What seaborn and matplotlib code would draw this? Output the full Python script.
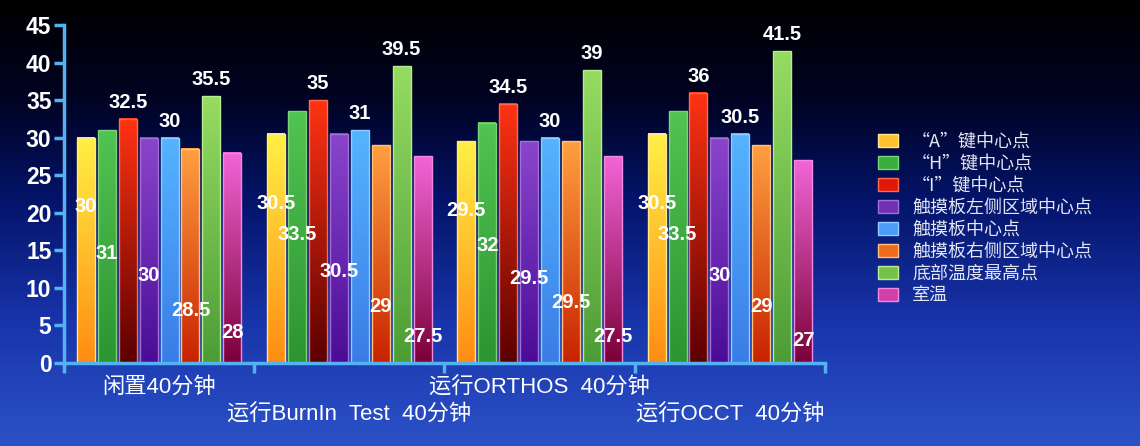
import numpy as np
import pandas as pd
import matplotlib
matplotlib.use('Agg')
import matplotlib.pyplot as plt
import seaborn as sns
from matplotlib.colors import LinearSegmentedColormap
from matplotlib.patches import Patch

# ---------------- data ----------------
groups = ['闲置40分钟', '运行BurnIn  Test  40分钟', '运行ORTHOS  40分钟', '运行OCCT  40分钟']
series = ['“A”键中心点', '“H”键中心点', '“I”键中心点', '触摸板左侧区域中心点',
          '触摸板中心点', '触摸板右侧区域中心点', '底部温度最高点', '室温']
a_key = [30, 30.5, 29.5, 30.5]
h_key = [31, 33.5, 32, 33.5]
i_key = [32.5, 35, 34.5, 36]
pad_left = [30, 30.5, 29.5, 30]
pad_center = [30, 31, 30, 30.5]
pad_right = [28.5, 29, 29.5, 29]
bottom_max = [35.5, 39.5, 39, 41.5]
room = [28, 27.5, 27.5, 27]
yticks = [0, 5, 10, 15, 20, 25, 30, 35, 40, 45]

values = [a_key, h_key, i_key, pad_left, pad_center, pad_right, bottom_max, room]
df = pd.DataFrame({
    'group': [g for s in series for g in groups],
    'series': [s for s in series for g in groups],
    'temp': [v for vals in values for v in vals],
})

# ---------------- style ----------------
top_cols = ['#fff045', '#52c452', '#ff3312', '#8a45cc', '#55b4ff', '#ffa040', '#96dc62', '#f265d6']
bot_cols = ['#ff8c12', '#2c9430', '#5a0000', '#4a0c96', '#3a7ce6', '#c82200', '#4c9c36', '#7a0038']
mid_cols = ['#ffc030', '#3aae3c', '#e01808', '#7030b4', '#4a9cf6', '#f06a1c', '#74c24c', '#d040a8']
edge_cols = ['#ffe890', '#7ad47a', '#ff6a50', '#a070d8', '#90ccff', '#ffc080', '#b8ec90', '#f08ae0']
# label placement per series: ('in', offset below top) or ('top', offset above top)
label_mode = [('in', 9.2), ('in', 16.4), ('top', 2.2), ('in', 18.3),
              ('top', 2.2), ('in', 21.5), ('top', 2.2), ('in', 24.0)]
axis_col = '#55b2f2'

sns.set_theme(style='white')
plt.rcParams['font.family'] = ['Liberation Sans', 'Noto Sans CJK SC', 'DejaVu Sans']

fig = plt.figure(figsize=(11.4, 4.46), dpi=100)

# background gradient
bg = fig.add_axes([0, 0, 1, 1], zorder=-10)
bg_cmap = LinearSegmentedColormap.from_list('bg', [
    (0.0, '#000000'), (0.22, '#000322'), (0.45, '#04146a'),
    (0.72, '#1834aa'), (1.0, '#2c52c8')])
bg.imshow(np.linspace(0, 1, 256).reshape(-1, 1), aspect='auto', cmap=bg_cmap,
          extent=[0, 1, 0, 1], origin='upper', interpolation='bicubic')
bg.axis('off')

ax = fig.add_axes([0.0561, 0.186, 0.6676, 0.758])
ax.set_zorder(1)
ax.patch.set_alpha(0)

sns.barplot(data=df, x='group', y='temp', hue='series', order=groups, hue_order=series,
            palette=mid_cols, width=0.88, gap=0.14, ax=ax, legend=False, errorbar=None)

grad = np.linspace(0, 1, 256).reshape(-1, 1)
for si, cont in enumerate(ax.containers):
    cmap = LinearSegmentedColormap.from_list(f's{si}', [bot_cols[si], top_cols[si]])
    mode, off = label_mode[si]
    for bar in cont:
        x0, y0 = bar.get_x(), bar.get_y()
        w, h = bar.get_width(), bar.get_height()
        ax.imshow(grad, extent=[x0, x0 + w, y0, y0 + h], origin='lower', cmap=cmap,
                  aspect='auto', zorder=2, interpolation='bicubic')
        bar.set_facecolor('none')
        bar.set_edgecolor(edge_cols[si])
        bar.set_linewidth(1.0)
        bar.set_zorder(3)
        val = h
        ytxt = val + off if mode == 'top' else val - off
        ax.text(x0 + w / 2, ytxt, f'{val:g}', ha='center', va='center', color='white',
                fontsize=14.5, fontweight='bold', zorder=5)

ax.set_xlim(-0.5, 3.5)
ax.set_ylim(0, 45)
ax.set_xlabel('')
ax.set_ylabel('')

for s in ['top', 'right']:
    ax.spines[s].set_visible(False)
for s in ['left', 'bottom']:
    ax.spines[s].set_color(axis_col)
    ax.spines[s].set_linewidth(2.5)
    ax.spines[s].set_zorder(6)

ax.set_yticks(yticks)
ax.set_yticklabels([str(t) for t in yticks])
ax.tick_params(axis='y', direction='out', length=7, width=2.5, color=axis_col,
               labelcolor='white', labelsize=16.5, pad=2, left=True)
for lab in ax.get_yticklabels():
    lab.set_fontweight('bold')

ax.set_xticks(range(len(groups)))
ax.set_xticklabels(groups)
ax.set_xticks([-0.5, 0.5, 1.5, 2.5, 3.5], minor=True)
ax.tick_params(axis='x', which='major', length=0, labelcolor='white', labelsize=16, pad=10)
ax.tick_params(axis='x', which='minor', direction='out', length=7, width=2.5,
               color=axis_col, bottom=True)
for i, lab in enumerate(ax.get_xticklabels()):
    if i % 2 == 1:
        lab.set_y(-0.082)

handles = [Patch(facecolor=mid_cols[i], edgecolor=edge_cols[i], linewidth=1.0)
           for i in range(len(series))]
leg = fig.legend(handles, series, loc='upper left', bbox_to_anchor=(0.762, 0.722),
                 frameon=False, handlelength=1.1, handleheight=0.75, handletextpad=0.8,
                 labelspacing=0.22, borderpad=0,
                 prop={'family': ['Noto Sans CJK SC', 'DejaVu Sans'], 'size': 13})
for t in leg.get_texts():
    t.set_color('#e4e6f4')

fig.savefig('out.png', dpi=100)
